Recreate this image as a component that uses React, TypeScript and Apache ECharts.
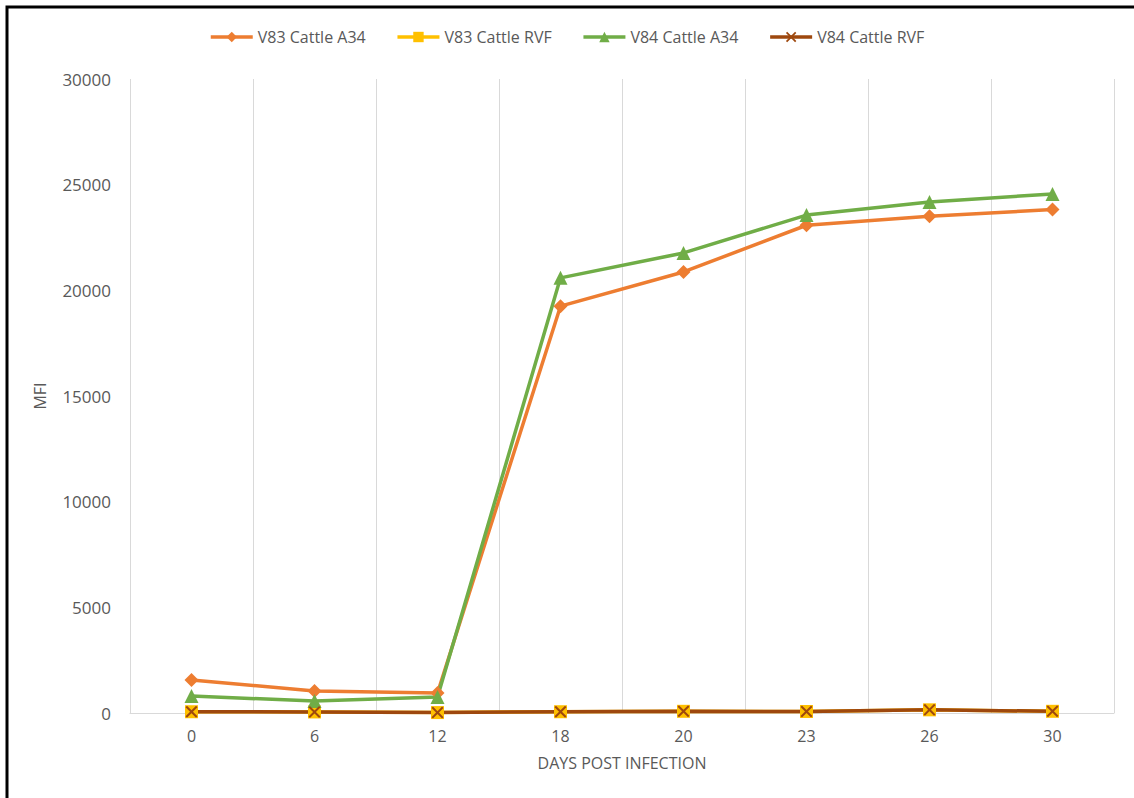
import React, { useEffect, useRef } from "react";
import * as echarts from "echarts";

const days = ["0", "6", "12", "18", "20", "23", "26", "30"];
const v83A34 = [1560, 1040, 950, 19250, 20870, 23080, 23500, 23820];
const v83RVF = [60, 50, 20, 60, 80, 70, 150, 80];
const v84A34 = [800, 570, 760, 20590, 21770, 23560, 24180, 24560];
const v84RVF = [60, 50, 20, 60, 80, 70, 150, 80];

const yTicks = { min: 0, max: 30000, interval: 5000 };

const FONT = "'Open Sans', 'Noto Sans', sans-serif";
const TEXT = "#595959";

const crossPath =
  "path://M0,1.2 L1.2,0 L5,3.8 L8.8,0 L10,1.2 L6.2,5 L10,8.8 L8.8,10 L5,6.2 L1.2,10 L0,8.8 L3.8,5 Z";

export default function App() {
  const ref = useRef<HTMLDivElement>(null);

  useEffect(() => {
    if (!ref.current) return;
    const chart = echarts.init(ref.current, undefined, { renderer: "svg" });
    const line = (
      name: string,
      data: number[],
      color: string,
      symbol: string,
      size: number
    ) => ({
      name,
      type: "line",
      data,
      symbol,
      symbolSize: size,
      lineStyle: { color, width: 3.5 },
      itemStyle: { color },
    });
    chart.setOption({
      animation: false,
      backgroundColor: "#ffffff",
      textStyle: { fontFamily: FONT },
      legend: {
        top: 24,
        left: 204,
        itemGap: 30,
        itemWidth: 42,
        itemHeight: 13,
        lineStyle: { width: 3.5 },
        textStyle: { fontSize: 16, color: TEXT, fontFamily: FONT },
        data: ["V83 Cattle A34", "V83 Cattle RVF", "V84 Cattle A34", "V84 Cattle RVF"],
      },
      grid: { left: 130, right: 20, top: 79, bottom: 85, containLabel: false },
      xAxis: {
        type: "category",
        data: days,
        boundaryGap: true,
        name: "DAYS POST INFECTION",
        nameLocation: "middle",
        nameGap: 42,
        nameTextStyle: { fontSize: 16, color: TEXT, fontFamily: FONT },
        axisLine: { show: true, lineStyle: { color: "#d9d9d9", width: 1 } },
        axisTick: { show: false },
        axisLabel: { fontSize: 16, color: TEXT, margin: 15, fontFamily: FONT },
        splitLine: { show: true, lineStyle: { color: "#d9d9d9", width: 1 } },
      },
      yAxis: {
        type: "value",
        min: yTicks.min,
        max: yTicks.max,
        interval: yTicks.interval,
        name: "MFI",
        nameLocation: "middle",
        nameGap: 82,
        nameRotate: 90,
        nameTextStyle: { fontSize: 16, color: TEXT, fontFamily: FONT },
        axisLine: { show: false },
        axisTick: { show: false },
        axisLabel: {
          fontSize: 17,
          color: TEXT,
          margin: 19,
          fontFamily: FONT,
          formatter: (v: number) => String(v),
        },
        splitLine: { show: false },
      },
      series: [
        line("V83 Cattle A34", v83A34, "#ED7D31", "diamond", 14),
        line("V83 Cattle RVF", v83RVF, "#FFC000", "rect", 13),
        line("V84 Cattle A34", v84A34, "#70AD47", "triangle", 14),
        line("V84 Cattle RVF", v84RVF, "#9E480E", crossPath, 12),
      ],
      graphic: [
        {
          type: "rect",
          shape: { x: 7, y: 7, width: 1200, height: 900 },
          style: { fill: "none", stroke: "#000000", lineWidth: 3 },
          silent: true,
        },
      ],
    });
    return () => chart.dispose();
  }, []);

  return (
    <div
      ref={ref}
      style={{ position: "fixed", left: 0, top: 0, width: 1134, height: 798 }}
    />
  );
}
